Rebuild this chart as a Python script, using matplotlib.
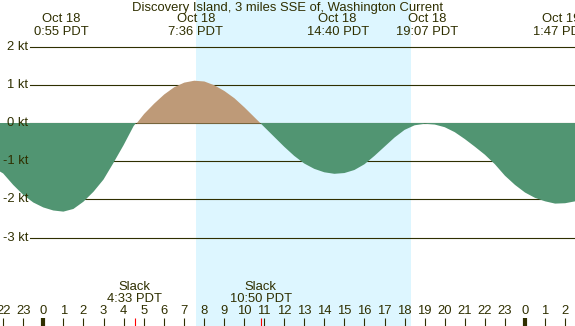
import matplotlib
matplotlib.use("Agg")
import matplotlib.pyplot as plt

plt.rcParams['font.family'] = ['Liberation Sans', 'DejaVu Sans']

# current speed (kt), every half hour (hours from Oct 18 00:00 PDT)
hours = [-2.16, -2, -1.5, -1, -0.5, 0, 0.5, 1, 1.5, 2, 2.5, 3, 3.5, 4, 4.5, 5, 5.5,
         6, 6.5, 7, 7.5, 8, 8.5, 9, 9.5, 10, 10.5, 11, 11.5, 12, 12.5, 13, 13.5,
         14, 14.5, 15, 15.5, 16, 16.5, 17, 17.5, 18, 18.5, 19, 19.5, 20, 20.5,
         21, 21.5, 22, 22.5, 23, 23.5, 24, 24.5, 25, 25.5, 26, 26.5]
speed = [-1.27, -1.32, -1.62, -1.88, -2.08, -2.21, -2.29, -2.32, -2.25, -2.06, -1.80,
         -1.48, -1.04, -0.58, -0.08, 0.25, 0.52, 0.76, 0.95, 1.07, 1.12, 1.10, 1.00,
         0.85, 0.66, 0.42, 0.16, -0.10, -0.36, -0.62, -0.86, -1.06, -1.20, -1.29,
         -1.33, -1.31, -1.23, -1.08, -0.86, -0.62, -0.38, -0.18, -0.06, -0.02, -0.04,
         -0.11, -0.24, -0.42, -0.62, -0.83, -1.08, -1.38, -1.62, -1.82, -1.96, -2.05,
         -2.11, -2.10, -2.05]

# max flood / ebb events shown at the top
event_hours = [0.917, 7.6, 14.667, 19.117, 25.783]
event_dates = ["Oct 18", "Oct 18", "Oct 18", "Oct 18", "Oct 19"]
event_times = ["0:55 PDT", "7:36 PDT", "14:40 PDT", "19:07 PDT", "1:47 PDT"]

# slack water
slack_hours = [4.55, 10.833]
slack_times = ["4:33 PDT", "10:50 PDT"]

sunrise, sunset = 7.6, 18.32
kt_levels = [2, 1, 0, -1, -2, -3]
hour_ticks = list(range(-2, 27))
hour_labels = [str(h % 24) for h in hour_ticks]

title = "Discovery Island, 3 miles SSE of, Washington Current"

night = "#b0c4da"
day = "#ddf6ff"
ebb = "#519572"
flood = "#be9a78"
ink = "#2f2f00"
fs = 9.4

W, H = 575, 326
fig = plt.figure(figsize=(W / 100, H / 100), dpi=100)
ax = fig.add_axes([0, 0, 1, 1])
ax.set_facecolor(night)
ax.set_xlim(-2.157, 26.49)
ax.set_ylim(-5.314, 3.22)
ax.axis("off")
ax.patch.set_visible(True)

ax.axvspan(sunrise, sunset, color=day, zorder=0, lw=0)

for lv in kt_levels:
    ax.axhline(lv, xmin=30 / W, xmax=1, color=ink, lw=0.8, zorder=1)

ax.fill_between(hours, speed, 0, where=[s >= 0 for s in speed], interpolate=True,
                color=flood, lw=0, zorder=2)
ax.fill_between(hours, speed, 0, where=[s <= 0 for s in speed], interpolate=True,
                color=ebb, lw=0, zorder=2)

ytr = ax.get_yaxis_transform()
for lv in kt_levels:
    ax.text(28 / W, lv, f"{lv} kt", transform=ytr, ha="right", va="center",
            fontsize=fs, color=ink, zorder=5)

xtr = ax.get_xaxis_transform()


def fy(px):
    return 1 - px / H


ax.text(0.5, fy(7.5), title, transform=ax.transAxes, ha="center", va="center",
        fontsize=fs, color=ink, zorder=5)
for h, d, t in zip(event_hours, event_dates, event_times):
    ax.text(h, fy(19.5), d, transform=xtr, ha="center", va="center",
            fontsize=fs, color=ink, zorder=5)
    ax.text(h, fy(32), t, transform=xtr, ha="center", va="center",
            fontsize=fs, color=ink, zorder=5)

for h, t in zip(slack_hours, slack_times):
    ax.text(h, fy(287.5), "Slack", transform=xtr, ha="center", va="center",
            fontsize=fs, color=ink, zorder=5)
    ax.text(h, fy(299.5), t, transform=xtr, ha="center", va="center",
            fontsize=fs, color=ink, zorder=5)
    ax.plot([h, h], [fy(318), 0], transform=xtr, color="#ff0000", lw=0.8,
            solid_capstyle="butt", zorder=4)

for h, lab in zip(hour_ticks, hour_labels):
    ax.text(h, fy(311.5), lab, transform=xtr, ha="center", va="center",
            fontsize=fs, color=ink, zorder=5)
    lw = 3 if h % 24 == 0 else 0.8
    ax.plot([h, h], [fy(318), 0], transform=xtr, color=ink, lw=lw,
            solid_capstyle="butt", zorder=4)

fig.savefig("out.png", dpi=100)
